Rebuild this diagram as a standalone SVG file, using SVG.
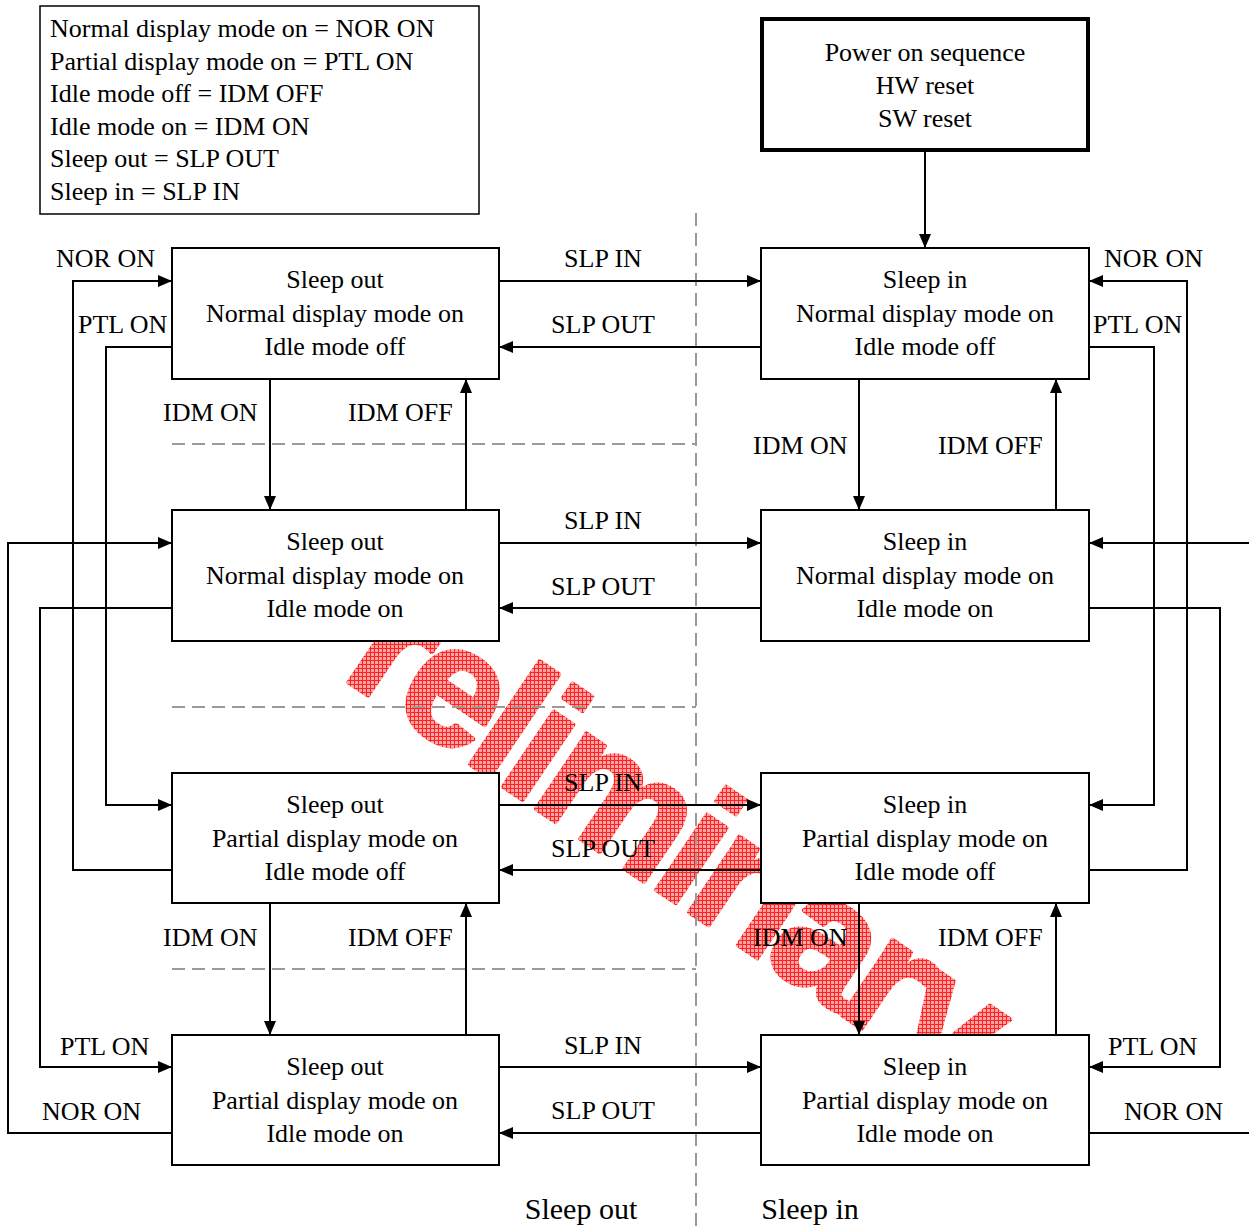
<svg xmlns="http://www.w3.org/2000/svg" width="1249" height="1227" viewBox="0 0 1249 1227">
<style>
.box{fill:#fff;stroke:#000;stroke-width:2}
.t{font-family:"Liberation Serif","Times New Roman",serif;font-size:26px;fill:#000}
.m{text-anchor:middle}
.conn{fill:none;stroke:#000;stroke-width:2}
.arr{marker-end:url(#ah)}
.dash{fill:none;stroke:#9a9a9a;stroke-width:2;stroke-dasharray:13 7}
</style>
<defs>
<marker id="ah" markerWidth="14" markerHeight="12" refX="14" refY="6" orient="auto" markerUnits="userSpaceOnUse"><path d="M0,0 L14,6 L0,12 z" fill="#000"/></marker>
<pattern id="grid" width="4" height="4" patternUnits="userSpaceOnUse" patternTransform="rotate(-34)"><rect width="4" height="4" fill="#ffa4a4"/><path d="M0,0.5 H4 M0.5,0 V4" stroke="#ff2020" stroke-width="1"/></pattern>
</defs>
<rect width="1249" height="1227" fill="#fff"/>
<g id="watermark">
<text x="0" y="0" transform="translate(250,616) rotate(34)" font-family="Liberation Sans, Arial, sans-serif" font-weight="bold" font-size="172" letter-spacing="-8" fill="url(#grid)" stroke="url(#grid)" stroke-width="4" stroke-linejoin="round">Preliminary</text>
</g>
<g id="dividers">
<path class="dash" d="M696,213 V1227 M172,444 H696 M172,707 H696 M172,969 H696"/>
</g>
<g id="connectors">
<path class="conn arr" d="M925,151 V248"/>
<path class="conn arr" d="M499,281 H761"/>
<path class="conn arr" d="M761,347 H499"/>
<path class="conn arr" d="M499,543 H761"/>
<path class="conn arr" d="M761,608 H499"/>
<path class="conn arr" d="M499,805 H761"/>
<path class="conn arr" d="M761,870 H499"/>
<path class="conn arr" d="M499,1067 H761"/>
<path class="conn arr" d="M761,1133 H499"/>
<path class="conn arr" d="M270,379 V510"/>
<path class="conn arr" d="M466,510 V379"/>
<path class="conn arr" d="M270,903 V1035"/>
<path class="conn arr" d="M466,1035 V903"/>
<path class="conn arr" d="M859,379 V510"/>
<path class="conn arr" d="M1056,510 V379"/>
<path class="conn arr" d="M859,903 V1035"/>
<path class="conn arr" d="M1056,1035 V903"/>
<path class="conn arr" d="M172,870 H73 V281 H172"/>
<path class="conn arr" d="M172,347 H106 V805 H172"/>
<path class="conn arr" d="M172,608 H40 V1067 H172"/>
<path class="conn arr" d="M172,1133 H8 V543 H172"/>
<path class="conn arr" d="M1089,870 H1187 V281 H1089"/>
<path class="conn arr" d="M1089,347 H1154 V805 H1089"/>
<path class="conn arr" d="M1089,608 H1220 V1067 H1089"/>
<path class="conn" d="M1089,1133 H1249"/>
<path class="conn arr" d="M1249,543 H1089"/>
<g class="t">
<text class="m" x="603" y="267">SLP IN</text>
<text class="m" x="603" y="333">SLP OUT</text>
<text class="m" x="603" y="529">SLP IN</text>
<text class="m" x="603" y="595">SLP OUT</text>
<text class="m" x="603" y="791">SLP IN</text>
<text class="m" x="603" y="857">SLP OUT</text>
<text class="m" x="603" y="1054">SLP IN</text>
<text class="m" x="603" y="1119">SLP OUT</text>
<text x="163" y="421">IDM ON</text>
<text x="348" y="421">IDM OFF</text>
<text x="753" y="454">IDM ON</text>
<text x="938" y="454">IDM OFF</text>
<text x="163" y="946">IDM ON</text>
<text x="348" y="946">IDM OFF</text>
<text x="753" y="946">IDM ON</text>
<text x="938" y="946">IDM OFF</text>
<text x="56" y="267">NOR ON</text>
<text x="78" y="333">PTL ON</text>
<text x="1104" y="267">NOR ON</text>
<text x="1093" y="333">PTL ON</text>
<text x="60" y="1055">PTL ON</text>
<text x="42" y="1120">NOR ON</text>
<text x="1108" y="1055">PTL ON</text>
<text x="1124" y="1120">NOR ON</text>
</g>
</g>
<g id="legend">
<rect x="40" y="6" width="439" height="208" fill="#fff" stroke="#000" stroke-width="1.5"/>
<g class="t">
<text x="50" y="37">Normal display mode on = NOR ON</text>
<text x="50" y="69.5">Partial display mode on = PTL ON</text>
<text x="50" y="102">Idle mode off = IDM OFF</text>
<text x="50" y="134.5">Idle mode on = IDM ON</text>
<text x="50" y="167">Sleep out = SLP OUT</text>
<text x="50" y="199.5">Sleep in = SLP IN</text>
</g>
</g>
<g id="power-on">
<rect x="762" y="19" width="326" height="131" fill="#fff" stroke="#000" stroke-width="4"/>
<g class="t m"><text x="925" y="61">Power on sequence</text><text x="925" y="94">HW reset</text><text x="925" y="127">SW reset</text></g>
</g>
<g id="so-nor-idmoff">
<rect class="box" x="172" y="248" width="327" height="131"/>
<g class="t m"><text x="335" y="288">Sleep out</text><text x="335" y="322">Normal display mode on</text><text x="335" y="355">Idle mode off</text></g>
</g>
<g id="si-nor-idmoff">
<rect class="box" x="761" y="248" width="328" height="131"/>
<g class="t m"><text x="925" y="288">Sleep in</text><text x="925" y="322">Normal display mode on</text><text x="925" y="355">Idle mode off</text></g>
</g>
<g id="so-nor-idmon">
<rect class="box" x="172" y="510" width="327" height="131"/>
<g class="t m"><text x="335" y="550">Sleep out</text><text x="335" y="584">Normal display mode on</text><text x="335" y="617">Idle mode on</text></g>
</g>
<g id="si-nor-idmon">
<rect class="box" x="761" y="510" width="328" height="131"/>
<g class="t m"><text x="925" y="550">Sleep in</text><text x="925" y="584">Normal display mode on</text><text x="925" y="617">Idle mode on</text></g>
</g>
<g id="so-ptl-idmoff">
<rect class="box" x="172" y="773" width="327" height="130"/>
<g class="t m"><text x="335" y="813">Sleep out</text><text x="335" y="847">Partial display mode on</text><text x="335" y="880">Idle mode off</text></g>
</g>
<g id="si-ptl-idmoff">
<rect class="box" x="761" y="773" width="328" height="130"/>
<g class="t m"><text x="925" y="813">Sleep in</text><text x="925" y="847">Partial display mode on</text><text x="925" y="880">Idle mode off</text></g>
</g>
<g id="so-ptl-idmon">
<rect class="box" x="172" y="1035" width="327" height="130"/>
<g class="t m"><text x="335" y="1075">Sleep out</text><text x="335" y="1109">Partial display mode on</text><text x="335" y="1142">Idle mode on</text></g>
</g>
<g id="si-ptl-idmon">
<rect class="box" x="761" y="1035" width="328" height="130"/>
<g class="t m"><text x="925" y="1075">Sleep in</text><text x="925" y="1109">Partial display mode on</text><text x="925" y="1142">Idle mode on</text></g>
</g>
<g id="region-labels" font-family="Liberation Serif, Times New Roman, serif" font-size="30" text-anchor="middle">
<text x="581" y="1219">Sleep out</text>
<text x="810" y="1219">Sleep in</text>
</g>
</svg>
